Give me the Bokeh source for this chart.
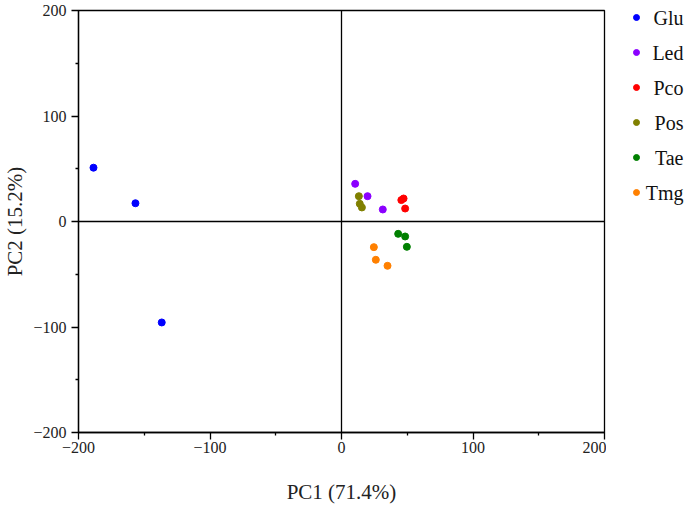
from bokeh.plotting import figure
from bokeh.models import Range1d, FixedTicker, Span, ColumnDataSource
from bokeh.layouts import row
from bokeh.core.properties import value
from bokeh.embed import file_html
from bokeh.resources import INLINE

# ---- data ----
groups = ["Glu", "Led", "Pco", "Pos", "Tae", "Tmg"]
colors = ["#0000FF", "#8B00FF", "#FF0000", "#808000", "#008000", "#FF8000"]
glu_pc1 = [-188.6, -156.7, -136.7]
glu_pc2 = [51.0, 17.3, -95.7]
led_pc1 = [10.4, 19.8, 31.4]
led_pc2 = [35.7, 24.0, 11.4]
pco_pc1 = [45.5, 47.2, 48.4]
pco_pc2 = [20.3, 21.8, 12.3]
pos_pc1 = [13.2, 13.9, 15.5]
pos_pc2 = [24.0, 16.8, 13.3]
tae_pc1 = [43.1, 48.4, 49.7]
tae_pc2 = [-11.7, -14.2, -24.0]
tmg_pc1 = [24.6, 26.1, 35.0]
tmg_pc2 = [-24.3, -36.3, -42.0]

x_ticks = [-200, -100, 0, 100, 200]
x_tick_labels = ["\u2212200", "\u2212100", "0", "100", "200"]
y_ticks = [-200, -100, 0, 100, 200]
y_tick_labels = ["\u2212200", "\u2212100", "0", "100", "200"]
x_minor = [-150, -50, 50, 150]
y_minor = [-150, -50, 50, 150]
x_title = "PC1 (71.4%)"
y_title = "PC2 (15.2%)"

series_x = [glu_pc1, led_pc1, pco_pc1, pos_pc1, tae_pc1, tmg_pc1]
series_y = [glu_pc2, led_pc2, pco_pc2, pos_pc2, tae_pc2, tmg_pc2]

FONT = "Liberation Serif"
TOP, BOTTOM, H = 10, 80, 512

p = figure(width=606, height=H, output_backend="svg", toolbar_location=None,
           x_range=Range1d(-200, 200), y_range=Range1d(-200, 200),
           min_border_left=78, min_border_right=2, min_border_top=TOP,
           min_border_bottom=BOTTOM)
p.background_fill_color = "white"
p.border_fill_color = "white"
p.outline_line_color = "black"
p.outline_line_width = 1.3
p.grid.visible = False

for ax, ticks, labels, minor in ((p.xaxis[0], x_ticks, x_tick_labels, x_minor),
                                 (p.yaxis[0], y_ticks, y_tick_labels, y_minor)):
    ax.ticker = FixedTicker(ticks=ticks, minor_ticks=minor)
    ax.major_label_overrides = {t: l for t, l in zip(ticks, labels)}
    ax.axis_line_color = "black"
    ax.axis_line_width = 1.3
    ax.major_tick_line_color = "black"
    ax.major_tick_line_width = 1.3
    ax.minor_tick_line_color = "black"
    ax.minor_tick_line_width = 1.3
    ax.major_tick_out = 7
    ax.major_tick_in = 0
    ax.minor_tick_out = 3
    ax.minor_tick_in = 0
    ax.major_label_text_font = FONT
    ax.major_label_text_font_size = "16px"
    ax.major_label_text_color = "#222222"
    ax.axis_label_text_font = FONT
    ax.axis_label_text_font_size = "21px"
    ax.axis_label_text_font_style = "normal"
    ax.axis_label_text_color = "#222222"

p.xaxis.axis_label = x_title
p.yaxis.axis_label = y_title
p.xaxis.major_label_standoff = 2
p.xaxis.axis_label_standoff = 24
p.yaxis.major_label_standoff = 5
p.yaxis.axis_label_standoff = 3

p.add_layout(Span(location=0, dimension="width", line_color="black", line_width=1.3))
p.add_layout(Span(location=0, dimension="height", line_color="black", line_width=1.3))

for g, c, xs, ys in zip(groups, colors, series_x, series_y):
    p.scatter(xs, ys, size=7, color=c, line_color=c)

# ---- legend: a small side figure whose frame lines up with the main frame;
#      its ranges are in page pixels (y pointing down) ----
LW = 79
leg = figure(width=LW, height=H, output_backend="svg", toolbar_location=None,
             x_range=Range1d(606, 606 + LW), y_range=Range1d(H - BOTTOM, TOP),
             min_border_left=0, min_border_right=0, min_border_top=TOP,
             min_border_bottom=BOTTOM)
leg.axis.visible = False
leg.grid.visible = False
leg.outline_line_color = None
leg.background_fill_color = "white"
leg.border_fill_color = "white"

row_y = [17 + 35 * i for i in range(len(groups))]
src = ColumnDataSource(dict(g=groups, c=colors, y=row_y,
                            xd=[636] * len(groups), xt=[683] * len(groups)))
leg.scatter("xd", "y", source=src, size=6, color="c", line_color="c")
leg.text("xt", "y", text="g", source=src, text_align="right", text_baseline="middle",
         text_font=value(FONT), text_font_size="20px", text_color="#111111")

layout = row(p, leg)
open("out.html", "w").write(file_html(layout, INLINE))
